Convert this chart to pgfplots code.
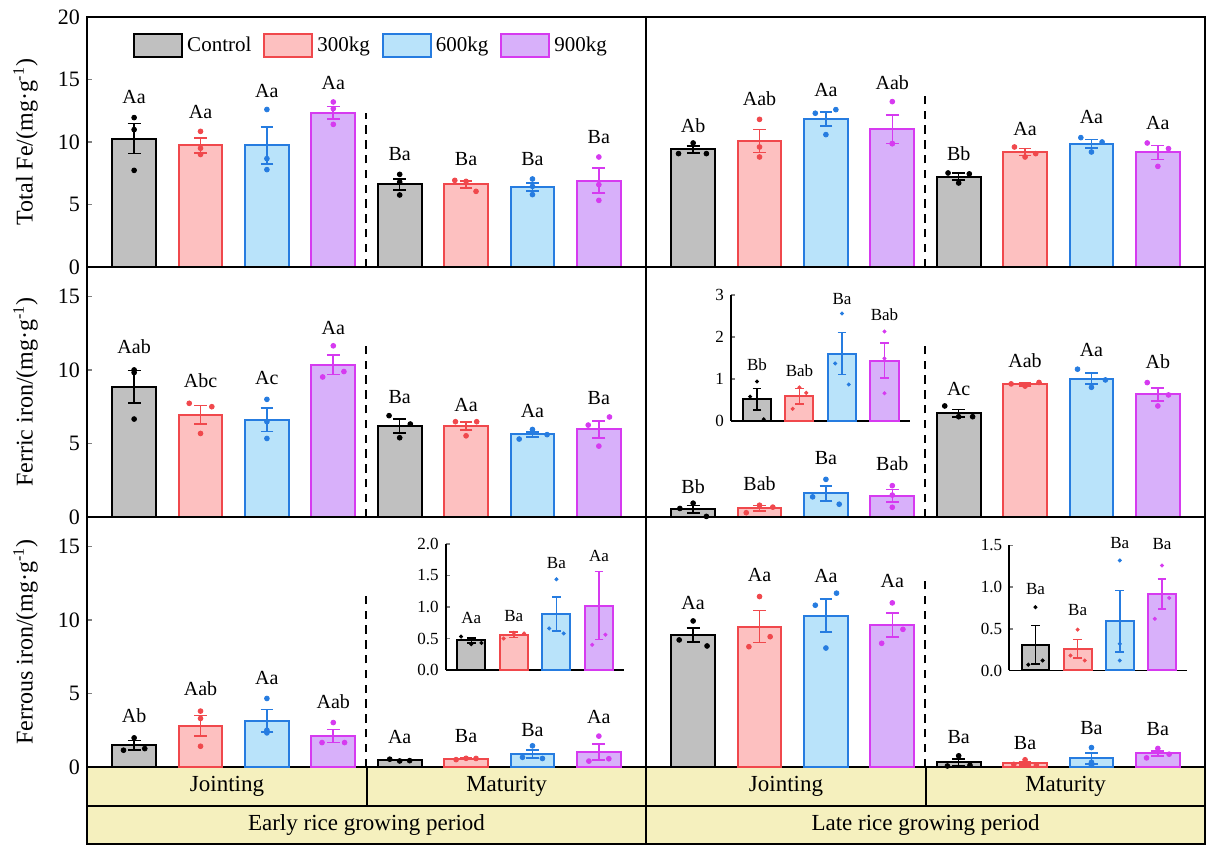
\documentclass[border=0pt]{standalone}
\usepackage{fontspec}
\setmainfont{Liberation Serif}
\usepackage{pgfplots}
\pgfplotsset{compat=1.18}
\definecolor{cCf}{RGB}{192,192,192}
\definecolor{cPf}{RGB}{253,192,192}
\definecolor{cPe}{RGB}{240,72,76}
\definecolor{cBf}{RGB}{185,227,250}
\definecolor{cBe}{RGB}{38,124,224}
\definecolor{cVf}{RGB}{216,176,250}
\definecolor{cVe}{RGB}{214,58,240}
\definecolor{bandc}{RGB}{245,240,190}
\newcommand\lbfont{\fontsize{10}{12}\selectfont}
\newcommand\lbsfont{\fontsize{8.5}{10}\selectfont}
\newcommand\lb[3]{\node[font=\lbfont,inner sep=0pt] at (axis cs:#1,#2) {#3};}
\newcommand\lbs[3]{\node[font=\lbsfont,inner sep=0pt] at (axis cs:#1,#2) {#3};}
\newcommand\series[3]{\addplot[bar#1] coordinates {#2};\addplot[pt#1] coordinates {#3};}
\tikzset{dsh/.style={line width=1pt, dash pattern=on 4.2pt off 3.2pt}}
\pgfplotsset{
 capsz/.initial=3.2pt, ptsz/.initial=1.2pt, ebw/.initial=0.8pt,
 ebar/.style={/pgfplots/error bars/y dir=both, /pgfplots/error bars/y explicit,
   /pgfplots/error bars/error bar style={line width=\pgfkeysvalueof{/pgfplots/ebw}, draw=#1},
   /pgfplots/error bars/error mark options={rotate=90, mark size=\pgfkeysvalueof{/pgfplots/capsz}, line width=\pgfkeysvalueof{/pgfplots/ebw}, draw=#1}},
 barbase/.style={ybar, bar width=0.66, bar shift=0pt, line width=1pt, forget plot},
 barC/.style={barbase, fill=cCf, draw=black, ebar=black},
 barP/.style={barbase, fill=cPf, draw=cPe, ebar=cPe},
 barB/.style={barbase, fill=cBf, draw=cBe, ebar=cBe},
 barV/.style={barbase, fill=cVf, draw=cVe, ebar=cVe},
 ptbase/.style={only marks, mark=*, mark size=\pgfkeysvalueof{/pgfplots/ptsz}, forget plot},
 ptC/.style={ptbase, color=black},
 ptP/.style={ptbase, color=cPe},
 ptB/.style={ptbase, color=cBe},
 ptV/.style={ptbase, color=cVe},
 legbox/.style={legend image code/.code={\draw[line width=1pt,##1] (0pt,-5.75pt) rectangle (24pt,5.75pt);}},
 mainax/.style={scale only axis, width=279.5pt, height=125pt, anchor=south west,
   xmin=-0.71, xmax=7.71, ymin=0, xtick=\empty, clip=false,
   axis line style={line width=0.8pt}, major tick style={line width=0.8pt},
   tick align=inside, ytick pos=left, major tick length=2.5pt,
   tick label style={font=\fontsize{11}{12}\selectfont},
   /pgf/number format/assume math mode=true,
   ylabel style={at={(axis description cs:-0.11,0.5)}, anchor=center, font=\fontsize{12}{14}\selectfont}},
 inax/.style={scale only axis, anchor=south west, ymin=0, clip=false,
   axis x line*=bottom, axis y line*=left, axis line style={line width=0.9pt,-},
   xtick=\empty, tick align=inside, major tick length=2pt, major tick style={line width=0.8pt},
   tick label style={font=\fontsize{8.5}{10}\selectfont},
   /pgf/number format/assume math mode=true,
   capsz=2.2pt, ptsz=0.8pt, ebw=0.7pt},
}
\begin{document}
\begin{tikzpicture}
\useasboundingbox (0,0) rectangle (603.5pt,422.5pt);
% ---- category band
\fill[bandc] (43.5pt,0.5pt) rectangle (602.5pt,39pt);
\draw[line width=0.8pt] (43.5pt,0.5pt) rectangle (602.5pt,39pt);
\draw[line width=0.8pt] (43.5pt,19.5pt) -- (602.5pt,19.5pt);
\draw[line width=0.8pt] (183.5pt,19.5pt) -- (183.5pt,39pt);
\draw[line width=0.8pt] (463pt,19.5pt) -- (463pt,39pt);
\draw[line width=0.8pt] (323pt,0.5pt) -- (323pt,39pt);
\begin{scope}[font=\fontsize{11.5}{13}\selectfont]
\node at (113.5pt,29.25pt) {Jointing};
\node at (253.25pt,29.25pt) {Maturity};
\node at (393pt,29.25pt) {Jointing};
\node at (532.75pt,29.25pt) {Maturity};
\node at (183.25pt,9.75pt) {Early rice growing period};
\node at (462.75pt,9.75pt) {Late rice growing period};
\end{scope}
% ---- top left: Total Fe, early
\begin{axis}[mainax, at={(43.5pt,289pt)}, ymax=20, ytick={0,5,10,15,20},
  ylabel={Total Fe/(mg·g\textsuperscript{-1})},
  legend columns=4, legend cell align=left,
  legend style={at={(0.51,0.886)}, anchor=center, draw=none, fill=none, inner sep=0pt,
    font=\fontsize{10.5}{12}\selectfont, /tikz/every even column/.append style={column sep=4pt}}]
\addlegendimage{legbox,fill=cCf,draw=black}\addlegendentry{Control}
\addlegendimage{legbox,fill=cPf,draw=cPe}\addlegendentry{300kg}
\addlegendimage{legbox,fill=cBf,draw=cBe}\addlegendentry{600kg}
\addlegendimage{legbox,fill=cVf,draw=cVe}\addlegendentry{900kg}
\series{C}{(0,10.27)+-(0,1.2) (4,6.61)+-(0,0.44)}{(0,11.95)(0,10.99)(0,7.73)(4,7.41)(4,6.8)(4,5.76)}
\series{P}{(1,9.73)+-(0,0.6) (5,6.61)+-(0,0.29)}{(1,10.85)(1,9.5)(1,9.0)(4.83,6.93)(5,6.85)(5.15,6.05)}
\series{B}{(2,9.73)+-(0,1.47) (6,6.4)+-(0,0.32)}{(2,12.6)(2,8.67)(2,7.79)(6,7.04)(6,6.45)(6,5.79)}
\series{V}{(3,12.35)+-(0,0.49) (7,6.91)+-(0,1.0)}{(3,13.2)(3,12.67)(3,11.41)(7,8.8)(7,6.59)(7,5.33)}
\draw[dsh] (axis cs:3.5,0) -- (axis cs:3.5,12.3);
\lb{0}{13.6}{Aa}\lb{1}{12.4}{Aa}\lb{2}{14.1}{Aa}\lb{3}{14.7}{Aa}
\lb{4}{9.07}{Ba}\lb{5}{8.67}{Ba}\lb{6}{8.67}{Ba}\lb{7}{10.4}{Ba}
\end{axis}
% ---- top right: Total Fe, late
\begin{axis}[mainax, at={(323pt,289pt)}, ymax=20, ytick=\empty]
\series{C}{(0,9.41)+-(0,0.27) (4,7.23)+-(0,0.27)}{(0,9.92)(-0.22,9.07)(0.2,9.07)(3.84,7.52)(4,6.72)(4.16,7.45)}
\series{P}{(1,10.08)+-(0,0.91) (5,9.2)+-(0,0.27)}{(1,11.81)(1,9.6)(1,8.8)(4.84,9.6)(5,8.8)(5.16,9.07)}
\series{B}{(2,11.84)+-(0,0.58) (6,9.87)+-(0,0.33)}{(2.15,12.59)(1.84,12.3)(2,10.59)(5.84,10.35)(6,9.2)(6.16,10.0)}
\series{V}{(3,11.01)+-(0,1.13) (7,9.17)+-(0,0.56)}{(3,13.23)(3,9.87)(3,9.87)(6.84,9.92)(7,8.05)(7.16,9.47)}
\draw[dsh] (axis cs:3.5,0) -- (axis cs:3.5,14);
\lb{0}{11.33}{Ab}\lb{1}{13.47}{Aab}\lb{2}{14.19}{Aa}\lb{3}{14.72}{Aab}
\lb{4}{9.07}{Bb}\lb{5}{11.07}{Aa}\lb{6}{12.0}{Aa}\lb{7}{11.55}{Aa}
\end{axis}
% ---- middle left: Ferric, early
\begin{axis}[mainax, at={(43.5pt,164pt)}, ymax=17, ytick={0,5,10,15},
  ylabel={Ferric iron/(mg·g\textsuperscript{-1})}]
\series{C}{(0,8.86)+-(0,1.1) (4,6.2)+-(0,0.47)}{(0,10.0)(0,9.82)(0,6.66)(3.84,6.89)(4,5.39)(4.16,6.32)}
\series{P}{(1,6.95)+-(0,0.64) (5,6.18)+-(0,0.26)}{(0.83,7.73)(1,5.68)(1.17,7.5)(4.84,6.48)(5,5.52)(5.16,6.48)}
\series{B}{(2,6.61)+-(0,0.8) (6,5.61)+-(0,0.18)}{(2,8.0)(2,6.48)(2,5.34)(5.8,5.3)(6,5.95)(6.22,5.6)}
\series{V}{(3,10.34)+-(0,0.66) (7,5.95)+-(0,0.58)}{(2.84,9.52)(3,11.64)(3.16,9.89)(6.84,6.25)(7,4.82)(7.16,6.8)}
\draw[dsh] (axis cs:3.5,0) -- (axis cs:3.5,11.93);
\lb{0}{11.55}{Aab}\lb{1}{9.25}{Abc}\lb{2}{9.48}{Ac}\lb{3}{12.82}{Aa}
\lb{4}{8.18}{Ba}\lb{5}{7.61}{Aa}\lb{6}{7.2}{Aa}\lb{7}{8.11}{Ba}
\end{axis}
% ---- middle right: Ferric, late
\begin{axis}[mainax, at={(323pt,164pt)}, ymax=17, ytick=\empty]
\series{C}{(0,0.52)+-(0,0.26) (4,7.05)+-(0,0.25)}{(-0.2,0.58)(0,0.94)(0.2,0.04)(3.79,7.55)(4,6.82)(4.21,6.82)}
\series{P}{(1,0.59)+-(0,0.19) (5,9.02)+-(0,0.1)}{(0.8,0.29)(1,0.8)(1.2,0.67)(4.79,9.05)(5,8.9)(5.21,9.15)}
\series{B}{(2,1.6)+-(0,0.5) (6,9.41)+-(0,0.38)}{(1.8,1.37)(2,2.56)(2.2,0.87)(5.79,10.05)(6,8.82)(6.21,9.32)}
\series{V}{(3,1.44)+-(0,0.42) (7,8.34)+-(0,0.45)}{(3,2.13)(3,1.49)(3,0.66)(6.84,9.14)(7,7.55)(7.16,8.3)}
\draw[dsh] (axis cs:3.5,0) -- (axis cs:3.5,11.93);
\lb{0}{2.09}{Bb}\lb{1}{2.27}{Bab}\lb{2}{3.98}{Ba}\lb{3}{3.64}{Bab}
\lb{4}{8.68}{Ac}\lb{5}{10.64}{Aab}\lb{6}{11.36}{Aa}\lb{7}{10.57}{Ab}
\end{axis}
% inset middle right
\begin{axis}[inax, at={(365.5pt,212pt)}, width=89.5pt, height=63pt,
  xmin=-0.61, xmax=3.6, ymax=3, ytick={0,1,2,3}]
\series{C}{(0,0.52)+-(0,0.26)}{(-0.16,0.58)(0,0.94)(0.16,0.04)}
\series{P}{(1,0.59)+-(0,0.19)}{(0.84,0.29)(1,0.8)(1.16,0.67)}
\series{B}{(2,1.6)+-(0,0.5)}{(1.84,1.37)(2,2.56)(2.16,0.87)}
\series{V}{(3,1.44)+-(0,0.42)}{(3,2.13)(3,1.49)(3,0.66)}
\lbs{0}{1.35}{Bb}\lbs{1}{1.2}{Bab}\lbs{2}{2.9}{Ba}\lbs{3}{2.52}{Bab}
\end{axis}
% ---- bottom left: Ferrous, early
\begin{axis}[mainax, at={(43.5pt,39pt)}, ymax=17, ytick={0,5,10,15},
  ylabel={Ferrous iron/(mg·g\textsuperscript{-1})}]
\series{C}{(0,1.48)+-(0,0.32) (4,0.47)+-(0,0.04)}{(-0.16,1.14)(0,1.98)(0.16,1.25)(3.85,0.53)(4,0.41)(4.15,0.43)}
\series{P}{(1,2.8)+-(0,0.7) (5,0.56)+-(0,0.04)}{(1,3.8)(1,3.3)(1,1.41)(4.85,0.5)(5,0.59)(5.15,0.58)}
\series{B}{(2,3.14)+-(0,0.76) (6,0.89)+-(0,0.27)}{(2,4.66)(2,2.5)(2,2.32)(5.85,0.66)(6,1.44)(6.15,0.58)}
\series{V}{(3,2.11)+-(0,0.45) (7,1.02)+-(0,0.54)}{(2.83,1.66)(3,3.02)(3.17,1.66)(6.85,0.40)(7,2.1)(7.15,0.56)}
\draw[dsh] (axis cs:3.5,0) -- (axis cs:3.5,11.86);
\lb{0}{3.52}{Ab}\lb{1}{5.34}{Aab}\lb{2}{6.02}{Aa}\lb{3}{4.43}{Aab}
\lb{4}{2.05}{Aa}\lb{5}{2.09}{Ba}\lb{6}{2.5}{Ba}\lb{7}{3.41}{Aa}
\end{axis}
% inset bottom left
\begin{axis}[inax, at={(222.85pt,87.5pt)}, width=89pt, height=63pt,
  xmin=-0.6, xmax=3.58, ymax=2, ytick={0,0.5,1,1.5,2},
  yticklabel style={/pgf/number format/fixed, /pgf/number format/fixed zerofill, /pgf/number format/precision=1}]
\series{C}{(0,0.47)+-(0,0.04)}{(-0.24,0.53)(0,0.41)(0.24,0.43)}
\series{P}{(1,0.56)+-(0,0.04)}{(0.76,0.5)(1,0.59)(1.24,0.58)}
\series{B}{(2,0.89)+-(0,0.27)}{(1.83,0.66)(2,1.44)(2.17,0.58)}
\addplot[barV] coordinates {(3,1.02)+-(0,0.54)};
\addplot[ptV, restrict y to domain=0:2] coordinates {(2.84,0.40)(3,2.1)(3.15,0.56)};
\lbs{0}{0.82}{Aa}\lbs{1}{0.86}{Ba}\lbs{2}{1.7}{Ba}\lbs{3}{1.81}{Aa}
\end{axis}
% ---- bottom right: Ferrous, late
\begin{axis}[mainax, at={(323pt,39pt)}, ymax=17, ytick=\empty]
\series{C}{(0,8.98)+-(0,0.49) (4,0.31)+-(0,0.23)}{(-0.21,8.64)(0,9.93)(0.21,8.23)(3.83,0.07)(4,0.76)(4.17,0.12)}
\series{P}{(1,9.55)+-(0,1.08) (5,0.26)+-(0,0.11)}{(0.84,8.18)(1,11.59)(1.16,8.86)(4.83,0.18)(5,0.49)(5.17,0.12)}
\series{B}{(2,10.3)+-(0,1.12) (6,0.59)+-(0,0.37)}{(1.84,11.0)(2,8.09)(2.16,11.82)(6,1.32)(6,0.32)(6,0.12)}
\series{V}{(3,9.64)+-(0,0.82) (7,0.92)+-(0,0.18)}{(2.84,8.41)(3,11.16)(3.16,9.36)(6.83,0.62)(7,1.26)(7.17,0.87)}
\draw[dsh] (axis cs:3.5,0) -- (axis cs:3.5,12.86);
\lb{0}{11.18}{Aa}\lb{1}{13.07}{Aa}\lb{2}{13.0}{Aa}\lb{3}{12.66}{Aa}
\lb{4}{2.05}{Ba}\lb{5}{1.66}{Ba}\lb{6}{2.66}{Ba}\lb{7}{2.57}{Ba}
\end{axis}
% inset bottom right
\begin{axis}[inax, at={(504.65pt,87.25pt)}, width=89pt, height=62.5pt,
  xmin=-0.62, xmax=3.6, ymax=1.5, ytick={0,0.5,1,1.5},
  yticklabel style={/pgf/number format/fixed, /pgf/number format/fixed zerofill, /pgf/number format/precision=1}]
\series{C}{(0,0.31)+-(0,0.23)}{(-0.17,0.07)(0,0.76)(0.17,0.12)}
\series{P}{(1,0.26)+-(0,0.11)}{(0.83,0.18)(1,0.49)(1.17,0.12)}
\series{B}{(2,0.59)+-(0,0.37)}{(2,1.32)(2,0.32)(2,0.12)}
\series{V}{(3,0.92)+-(0,0.18)}{(2.83,0.62)(3,1.26)(3.17,0.87)}
\lbs{0}{0.98}{Ba}\lbs{1}{0.73}{Ba}\lbs{2}{1.53}{Ba}\lbs{3}{1.52}{Ba}
\end{axis}
\end{tikzpicture}
\end{document}
